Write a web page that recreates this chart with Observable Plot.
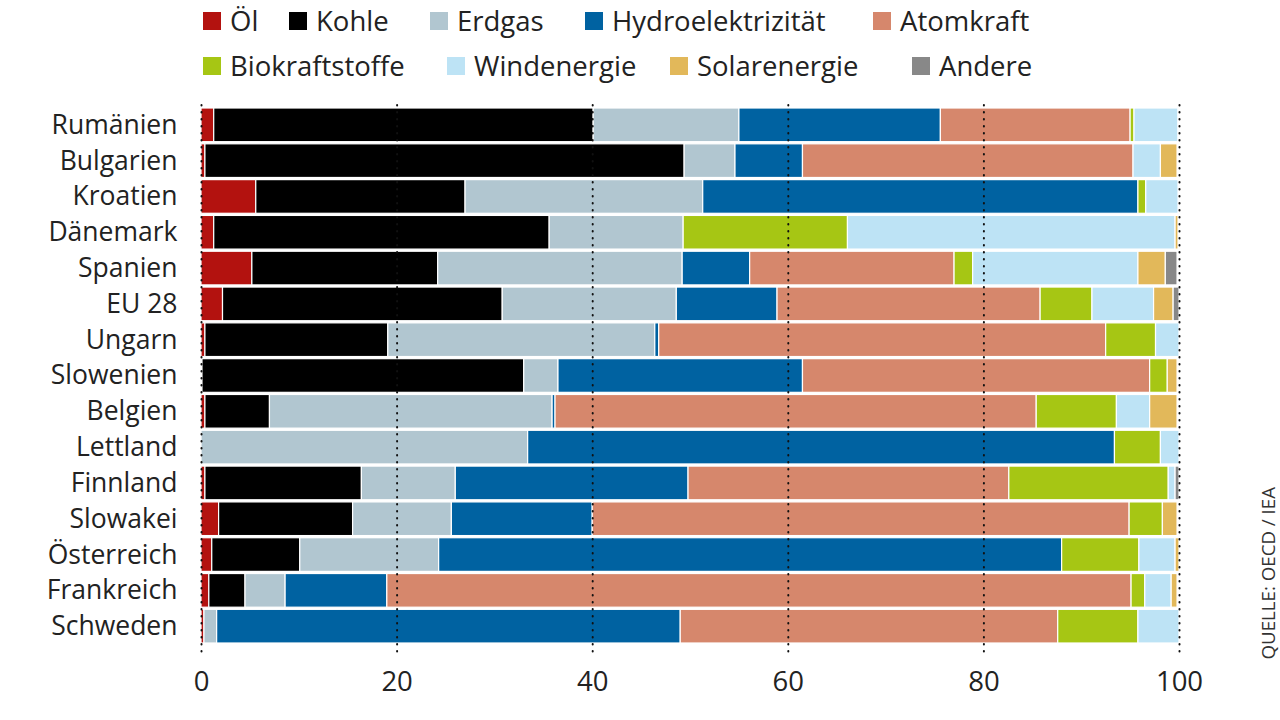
<!DOCTYPE html>
<html>
<head>
<meta charset="utf-8">
<script src="https://cdn.jsdelivr.net/npm/d3@7"></script>
<script src="https://cdn.jsdelivr.net/npm/@observablehq/plot@0.6"></script>
<style>
  body { margin: 0; background: #fff; font-family: "Open Sans", sans-serif; }
  #wrap { position: relative; width: 1280px; height: 720px; overflow: hidden; background: #fff; }
  #legend { position: absolute; left: 0; top: 0; width: 1280px; height: 90px; }
  .item { position: absolute; display: flex; align-items: center; font-size: 27.5px; color: #222; line-height: 1; white-space: nowrap; height: 30px; }
  .sw { width: 18px; height: 18px; margin-right: 9px; flex: none; }
  #chart { position: absolute; left: 0; top: 90px; line-height: 0; }
  #source { position: absolute; left: 1258px; top: 487px; writing-mode: vertical-rl; transform: rotate(180deg); font-size: 18.7px; line-height: 20px; white-space: nowrap; color: #333; }
</style>
</head>
<body>
<div id="wrap">
  <div id="legend"></div>
  <div id="chart"></div>
  <div id="source"></div>
</div>
<script>
// ---- data ----
const countries = ["Rumänien", "Bulgarien", "Kroatien", "Dänemark", "Spanien", "EU 28", "Ungarn", "Slowenien", "Belgien", "Lettland", "Finnland", "Slowakei", "Österreich", "Frankreich", "Schweden"];
const sources = ["Öl", "Kohle", "Erdgas", "Hydroelektrizität", "Atomkraft", "Biokraftstoffe", "Windenergie", "Solarenergie", "Andere"];

const oel    = [1.3, 0.4, 5.6, 1.3, 5.2, 2.2, 0.4, 0.1, 0.4, 0, 0.4, 1.8, 1.1, 0.8, 0.3];
const kohle  = [38.8, 49.0, 21.4, 34.3, 19.0, 28.6, 18.7, 32.9, 6.6, 0, 16.0, 13.7, 9.0, 3.7, 0];
const erdgas = [14.9, 5.2, 24.3, 13.7, 25.0, 17.8, 27.3, 3.5, 28.9, 33.4, 9.6, 10.1, 14.2, 4.1, 1.3];
const hydro  = [20.6, 6.9, 44.5, 0, 6.9, 10.3, 0.4, 25.0, 0.3, 60.0, 23.8, 14.4, 63.7, 10.4, 47.4];
const atom   = [19.4, 33.8, 0, 0, 20.9, 26.9, 45.7, 35.5, 49.2, 0, 32.8, 54.9, 0, 76.1, 38.6];
const bio    = [0.4, 0, 0.8, 16.8, 1.9, 5.3, 5.1, 1.8, 8.2, 4.7, 16.3, 3.4, 7.9, 1.4, 8.2];
const wind   = [4.5, 2.8, 3.3, 33.5, 16.9, 6.3, 2.4, 0, 3.4, 1.9, 0.7, 0, 3.7, 2.7, 4.2];
const solar  = [0.1, 1.7, 0, 0.3, 2.8, 2.0, 0, 1.0, 2.8, 0, 0, 1.5, 0.4, 0.6, 0];
const andere = [0, 0, 0, 0, 1.2, 0.6, 0, 0, 0, 0, 0.4, 0, 0, 0, 0];

const xTicks = [0, 20, 40, 60, 80, 100];
const source = "QUELLE: OECD / IEA";

// ---- styles ----
const colors = ["#b3120f", "#000000", "#b1c6d0", "#0062a1", "#d6876c", "#a6c614", "#bde3f5", "#e2b85a", "#888888"];
const legendPos = [
  [203, 21], [289, 21], [430, 21], [585, 21], [873, 21],
  [203, 66], [447, 66], [670, 66], [912, 66]
];

const series = [oel, kohle, erdgas, hydro, atom, bio, wind, solar, andere];
const rows = [];
countries.forEach((c, i) => {
  sources.forEach((s, j) => {
    rows.push({country: c, source: s, value: series[j][i]});
  });
});

const chart = Plot.plot({
  width: 1280,
  height: 630,
  marginLeft: 201,
  marginRight: 101,
  marginTop: 18,
  marginBottom: 77,
  style: {fontFamily: "Open Sans, sans-serif", fontSize: "26.5px", color: "#222", background: "white"},
  x: {domain: [0, 100], label: null, axis: null},
  y: {domain: countries, label: null, tickSize: 0, tickPadding: 24, paddingInner: 0.06, paddingOuter: 0, round: false},
  color: {domain: sources, range: colors},
  marks: [
    Plot.barX(rows, Plot.stackX({x: "value", y: "country", fill: "source", order: sources, stroke: "white", strokeWidth: 1.2})),
    Plot.ruleX(xTicks, {stroke: "#111", strokeWidth: 2, strokeDasharray: "0.5,6.5", strokeLinecap: "round", insetTop: -3, insetBottom: -14}),
    Plot.axisX(xTicks, {tickSize: 0, tickPadding: 28, fontSize: 27.5, label: null})
  ]
});
document.getElementById("chart").appendChild(chart);

const legend = document.getElementById("legend");
sources.forEach((s, j) => {
  const it = document.createElement("div");
  it.className = "item";
  it.style.left = legendPos[j][0] + "px";
  it.style.top = (legendPos[j][1] - 15) + "px";
  const sw = document.createElement("span");
  sw.className = "sw";
  sw.style.background = colors[j];
  const tx = document.createElement("span");
  tx.textContent = s;
  it.appendChild(sw);
  it.appendChild(tx);
  legend.appendChild(it);
});
document.getElementById("source").textContent = source;
</script>
</body>
</html>
